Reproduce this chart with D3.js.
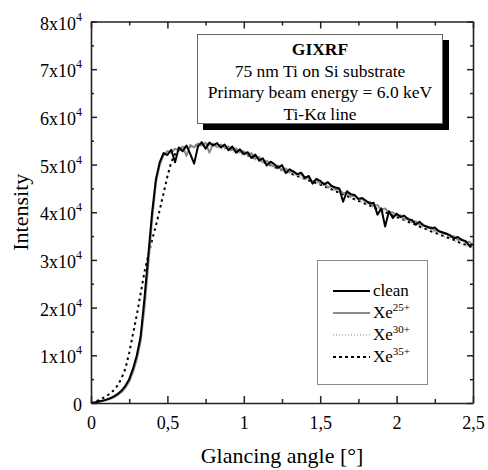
<!DOCTYPE html>
<html>
<head>
<meta charset="utf-8">
<script src="https://cdn.jsdelivr.net/npm/d3@7"></script>
<style>
  body { margin: 0; background: #fff; }
  svg { display: block; }
</style>
</head>
<body>
<svg id="chart" width="488" height="470"></svg>
<script>
// glancing angle in degrees
const angles = [0,0.025,0.05,0.075,0.1,0.125,0.15,0.175,0.2,0.225,
  0.25,0.275,0.3,0.325,0.35,0.375,0.4,0.425,0.45,0.475,
  0.5,0.525,0.55,0.575,0.6,0.625,0.65,0.675,0.7,0.725,
  0.75,0.775,0.8,0.825,0.85,0.875,0.9,0.925,0.95,0.975,
  1,1.025,1.05,1.075,1.1,1.125,1.15,1.175,1.2,1.225,
  1.25,1.275,1.3,1.325,1.35,1.375,1.4,1.425,1.45,1.475,
  1.5,1.525,1.55,1.575,1.6,1.625,1.65,1.675,1.7,1.725,
  1.75,1.775,1.8,1.825,1.85,1.875,1.9,1.925,1.95,1.975,
  2,2.025,2.05,2.075,2.1,2.125,2.15,2.175,2.2,2.225,
  2.25,2.275,2.3,2.325,2.35,2.375,2.4,2.425,2.45,2.475,
  2.5];

// intensities in units of 10^4 counts
const clean = [0,0.01,0.03,0.05,0.07,0.10,0.14,0.19,0.26,0.36,
  0.50,0.72,1.00,1.40,2.20,3.10,4.00,4.70,5.05,5.24,
  5.20,5.31,5.05,5.36,5.28,5.40,5.22,5.02,5.38,5.47,
  5.33,5.46,5.40,5.45,5.36,5.42,5.30,5.38,5.25,5.32,
  5.22,5.26,5.14,5.21,5.09,5.13,4.98,5.06,5.01,4.93,
  4.99,4.82,4.90,4.85,4.80,4.83,4.72,4.76,4.60,4.70,
  4.66,4.58,4.63,4.55,4.52,4.50,4.22,4.44,4.38,4.36,
  4.28,4.30,4.24,4.18,4.20,3.95,4.08,3.70,4.02,3.88,
  3.97,3.90,3.93,3.85,3.84,3.74,3.80,3.72,3.70,3.66,
  3.68,3.60,3.58,3.55,3.52,3.45,3.48,3.42,3.40,3.30,
  3.33];

const xe25 = [0,0.01,0.02,0.04,0.06,0.09,0.12,0.17,0.23,0.32,
  0.45,0.65,0.92,1.30,2.00,2.90,3.85,4.62,5.00,5.20,
  5.28,5.25,5.33,5.30,5.38,5.18,5.41,5.36,5.44,5.40,
  5.46,5.25,5.44,5.37,5.42,5.36,5.38,5.31,5.34,5.26,
  5.28,5.20,5.24,5.12,5.16,5.05,5.08,5.00,4.96,4.98,
  4.88,4.92,4.84,4.86,4.78,4.80,4.70,4.73,4.64,4.68,
  4.60,4.62,4.52,4.55,4.47,4.48,4.40,4.41,4.33,4.35,
  4.27,4.28,4.20,4.22,4.13,4.15,4.05,4.08,3.99,4.00,
  3.93,3.94,3.86,3.88,3.80,3.81,3.74,3.75,3.67,3.69,
  3.61,3.62,3.55,3.56,3.48,3.50,3.42,3.44,3.37,3.38,
  3.31];

const xe30 = [0,0.01,0.02,0.04,0.06,0.09,0.12,0.17,0.23,0.33,
  0.47,0.68,0.96,1.36,2.08,2.98,3.92,4.66,5.02,5.20,
  5.27,5.30,5.32,5.34,5.36,5.37,5.38,5.39,5.40,5.40,
  5.40,5.39,5.38,5.36,5.34,5.32,5.30,5.27,5.24,5.21,
  5.20,5.17,5.14,5.10,5.07,5.04,5.00,4.97,4.93,4.90,
  4.87,4.84,4.81,4.78,4.75,4.72,4.69,4.66,4.63,4.61,
  4.58,4.55,4.51,4.48,4.44,4.41,4.38,4.34,4.31,4.27,
  4.24,4.21,4.17,4.14,4.10,4.07,4.04,4.00,3.97,3.93,
  3.90,3.87,3.84,3.80,3.77,3.74,3.70,3.67,3.64,3.60,
  3.57,3.54,3.50,3.47,3.44,3.41,3.37,3.34,3.31,3.27,
  3.24];

const xe35 = [0,0.03,0.06,0.10,0.14,0.20,0.27,0.37,0.52,0.72,
  1.05,1.45,1.85,2.30,2.75,3.10,3.42,3.72,4.05,4.40,
  4.75,5.05,5.22,5.30,5.34,5.37,5.38,5.40,5.41,5.42,
  5.42,5.42,5.41,5.40,5.38,5.36,5.34,5.31,5.28,5.25,
  5.23,5.20,5.16,5.13,5.09,5.06,5.02,4.99,4.95,4.92,
  4.89,4.86,4.82,4.79,4.76,4.73,4.70,4.67,4.64,4.61,
  4.58,4.55,4.51,4.48,4.44,4.41,4.38,4.34,4.31,4.27,
  4.24,4.21,4.17,4.14,4.10,4.07,4.04,4.00,3.97,3.93,
  3.90,3.87,3.84,3.80,3.77,3.74,3.70,3.67,3.64,3.60,
  3.57,3.54,3.51,3.48,3.45,3.42,3.38,3.35,3.32,3.29,
  3.26];

const seriesNames = ['clean', 'Xe', 'Xe', 'Xe'];
const seriesSups = ['', '25+', '30+', '35+'];
const xMajorTicks = [0, 0.5, 1, 1.5, 2, 2.5];
const xMinorTicks = [0.25, 0.75, 1.25, 1.75, 2.25];
const yMajorTicks = [0, 1, 2, 3, 4, 5, 6, 7, 8];
const yMinorTicks = [0.5, 1.5, 2.5, 3.5, 4.5, 5.5, 6.5, 7.5];
const boxLines = ['GIXRF', '75 nm Ti on Si substrate', 'Primary beam energy = 6.0 keV', 'Ti-K\u03b1 line'];

const serif = 'Liberation Serif';

const margin = {top: 21.5, right: 15, bottom: 67, left: 91};
const width = 488 - margin.left - margin.right;
const height = 470 - margin.top - margin.bottom;

const svg = d3.select('#chart').attr('font-family', serif);
const g = svg.append('g')
    .attr('transform', `translate(${margin.left},${margin.top})`);

const x = d3.scaleLinear().domain([0, 2.5]).range([0, width]);
const y = d3.scaleLinear().domain([0, 8]).range([height, 0]);

// line styles: clean / Xe25+ / Xe30+ / Xe35+
const styles = [
    {color: '#000', width: 2, dash: null},
    {color: '#8a8a8a', width: 2, dash: null},
    {color: '#b4b4b4', width: 1.5, dash: '1,2'},
    {color: '#000', width: 2, dash: '2.5,3.5'}
];
const allSeries = [clean, xe25, xe30, xe35];

const line = d3.line()
    .defined(d => d[1] != null)
    .x(d => x(d[0]))
    .y(d => y(d[1]));

// draw order: dotted, dashed, gray, black
[2, 3, 1, 0].forEach(i => {
    const pts = angles.map((a, k) => [a, allSeries[i][k]]);
    const st = styles[i];
    g.append('path')
        .datum(pts)
        .attr('fill', 'none')
        .attr('stroke', st.color)
        .attr('stroke-width', st.width)
        .attr('stroke-linejoin', 'round')
        .attr('stroke-dasharray', st.dash)
        .attr('d', line);
});

// axes with inward ticks
const axisColor = '#222';
function styleAxis(sel) {
    sel.attr('font-family', serif);
    sel.select('.domain').attr('stroke', axisColor).attr('stroke-width', 1.6);
    sel.selectAll('.tick line').attr('stroke', axisColor).attr('stroke-width', 1.5);
}

const fmtX = d => d3.format('')(d).replace('.', ',');

const xAxis = g.append('g')
    .attr('transform', `translate(0,${height})`)
    .call(d3.axisBottom(x).tickValues(xMajorTicks).tickSizeInner(-7).tickSizeOuter(0).tickPadding(13).tickFormat(fmtX));
xAxis.call(styleAxis);
xAxis.selectAll('.tick text')
    .attr('font-size', 18)
    .attr('fill', '#000')
    .attr('font-family', serif);
g.append('g')
    .attr('transform', `translate(0,${height})`)
    .call(d3.axisBottom(x).tickValues(xMinorTicks).tickSizeInner(-4).tickSizeOuter(0).tickFormat(''))
    .call(styleAxis).select('.domain').remove();

g.append('g')
    .call(d3.axisTop(x).tickValues(xMajorTicks).tickSizeInner(-7).tickSizeOuter(0).tickFormat(''))
    .call(styleAxis);
g.append('g')
    .call(d3.axisTop(x).tickValues(xMinorTicks).tickSizeInner(-4).tickSizeOuter(0).tickFormat(''))
    .call(styleAxis).select('.domain').remove();

const yAxis = g.append('g')
    .call(d3.axisLeft(y).tickValues(yMajorTicks).tickSizeInner(-6).tickSizeOuter(0).tickPadding(9));
yAxis.call(styleAxis);
yAxis.selectAll('.tick text').each(function(d) {
    const t = d3.select(this)
        .text(null)
        .attr('font-size', 18)
        .attr('fill', '#000')
        .attr('font-family', serif)
        .attr('dy', '0.42em');
    if (d === 0) {
        t.text('0');
    } else {
        t.append('tspan').text(d + 'x10');
        t.append('tspan').attr('dy', -9).attr('font-size', 12).text('4');
    }
});
g.append('g')
    .call(d3.axisLeft(y).tickValues(yMinorTicks).tickSizeInner(-3).tickSizeOuter(0).tickFormat(''))
    .call(styleAxis).select('.domain').remove();

g.append('g')
    .attr('transform', `translate(${width},0)`)
    .call(d3.axisRight(y).tickValues(yMajorTicks).tickSizeInner(-6).tickSizeOuter(0).tickFormat(''))
    .call(styleAxis);
g.append('g')
    .attr('transform', `translate(${width},0)`)
    .call(d3.axisRight(y).tickValues(yMinorTicks).tickSizeInner(-3).tickSizeOuter(0).tickFormat(''))
    .call(styleAxis).select('.domain').remove();

// axis titles
svg.append('text')
    .attr('x', margin.left + width / 2)
    .attr('y', 463)
    .attr('text-anchor', 'middle')
    .attr('font-size', 22)
    .attr('font-family', serif)
    .text('Glancing angle [\u00b0]');

svg.append('text')
    .attr('transform', `translate(28,${margin.top + height / 2}) rotate(-90)`)
    .attr('text-anchor', 'middle')
    .attr('font-size', 22)
    .attr('font-family', serif)
    .text('Intensity');

// annotation box with drop shadow
const box = svg.append('g');
box.append('rect')
    .attr('x', 203).attr('y', 40).attr('width', 246).attr('height', 90)
    .attr('fill', '#000');
box.append('rect')
    .attr('x', 197.5).attr('y', 34.5).attr('width', 245).attr('height', 89)
    .attr('fill', '#fff').attr('stroke', '#666').attr('stroke-width', 1);
box.selectAll('text.boxline')
    .data(boxLines)
    .join('text')
    .attr('class', 'boxline')
    .attr('x', 320)
    .attr('y', (d, i) => 55 + i * 21.7)
    .attr('text-anchor', 'middle')
    .attr('font-size', 17.5)
    .attr('font-weight', (d, i) => i === 0 ? 'bold' : 'normal')
    .attr('font-family', serif)
    .text(d => d);

// legend
const legend = svg.append('g');
legend.append('rect')
    .attr('x', 317.5).attr('y', 260.5).attr('width', 110).attr('height', 124)
    .attr('fill', '#fff').attr('stroke', '#8a8a8a').attr('stroke-width', 1);

seriesNames.forEach((name, i) => {
    const ly = 291 + i * 22;
    const st = styles[i];
    legend.append('line')
        .attr('x1', 333).attr('x2', 370)
        .attr('y1', ly).attr('y2', ly)
        .attr('stroke', st.color)
        .attr('stroke-width', st.width)
        .attr('stroke-dasharray', i === 3 ? '3,3' : st.dash);
    const t = legend.append('text')
        .attr('x', 373)
        .attr('y', ly + 5)
        .attr('font-size', 17)
        .attr('font-family', serif);
    t.append('tspan').text(name);
    if (seriesSups[i]) {
        t.append('tspan').attr('dy', -7).attr('font-size', 11).text(seriesSups[i]);
    }
});
</script>
</body>
</html>
